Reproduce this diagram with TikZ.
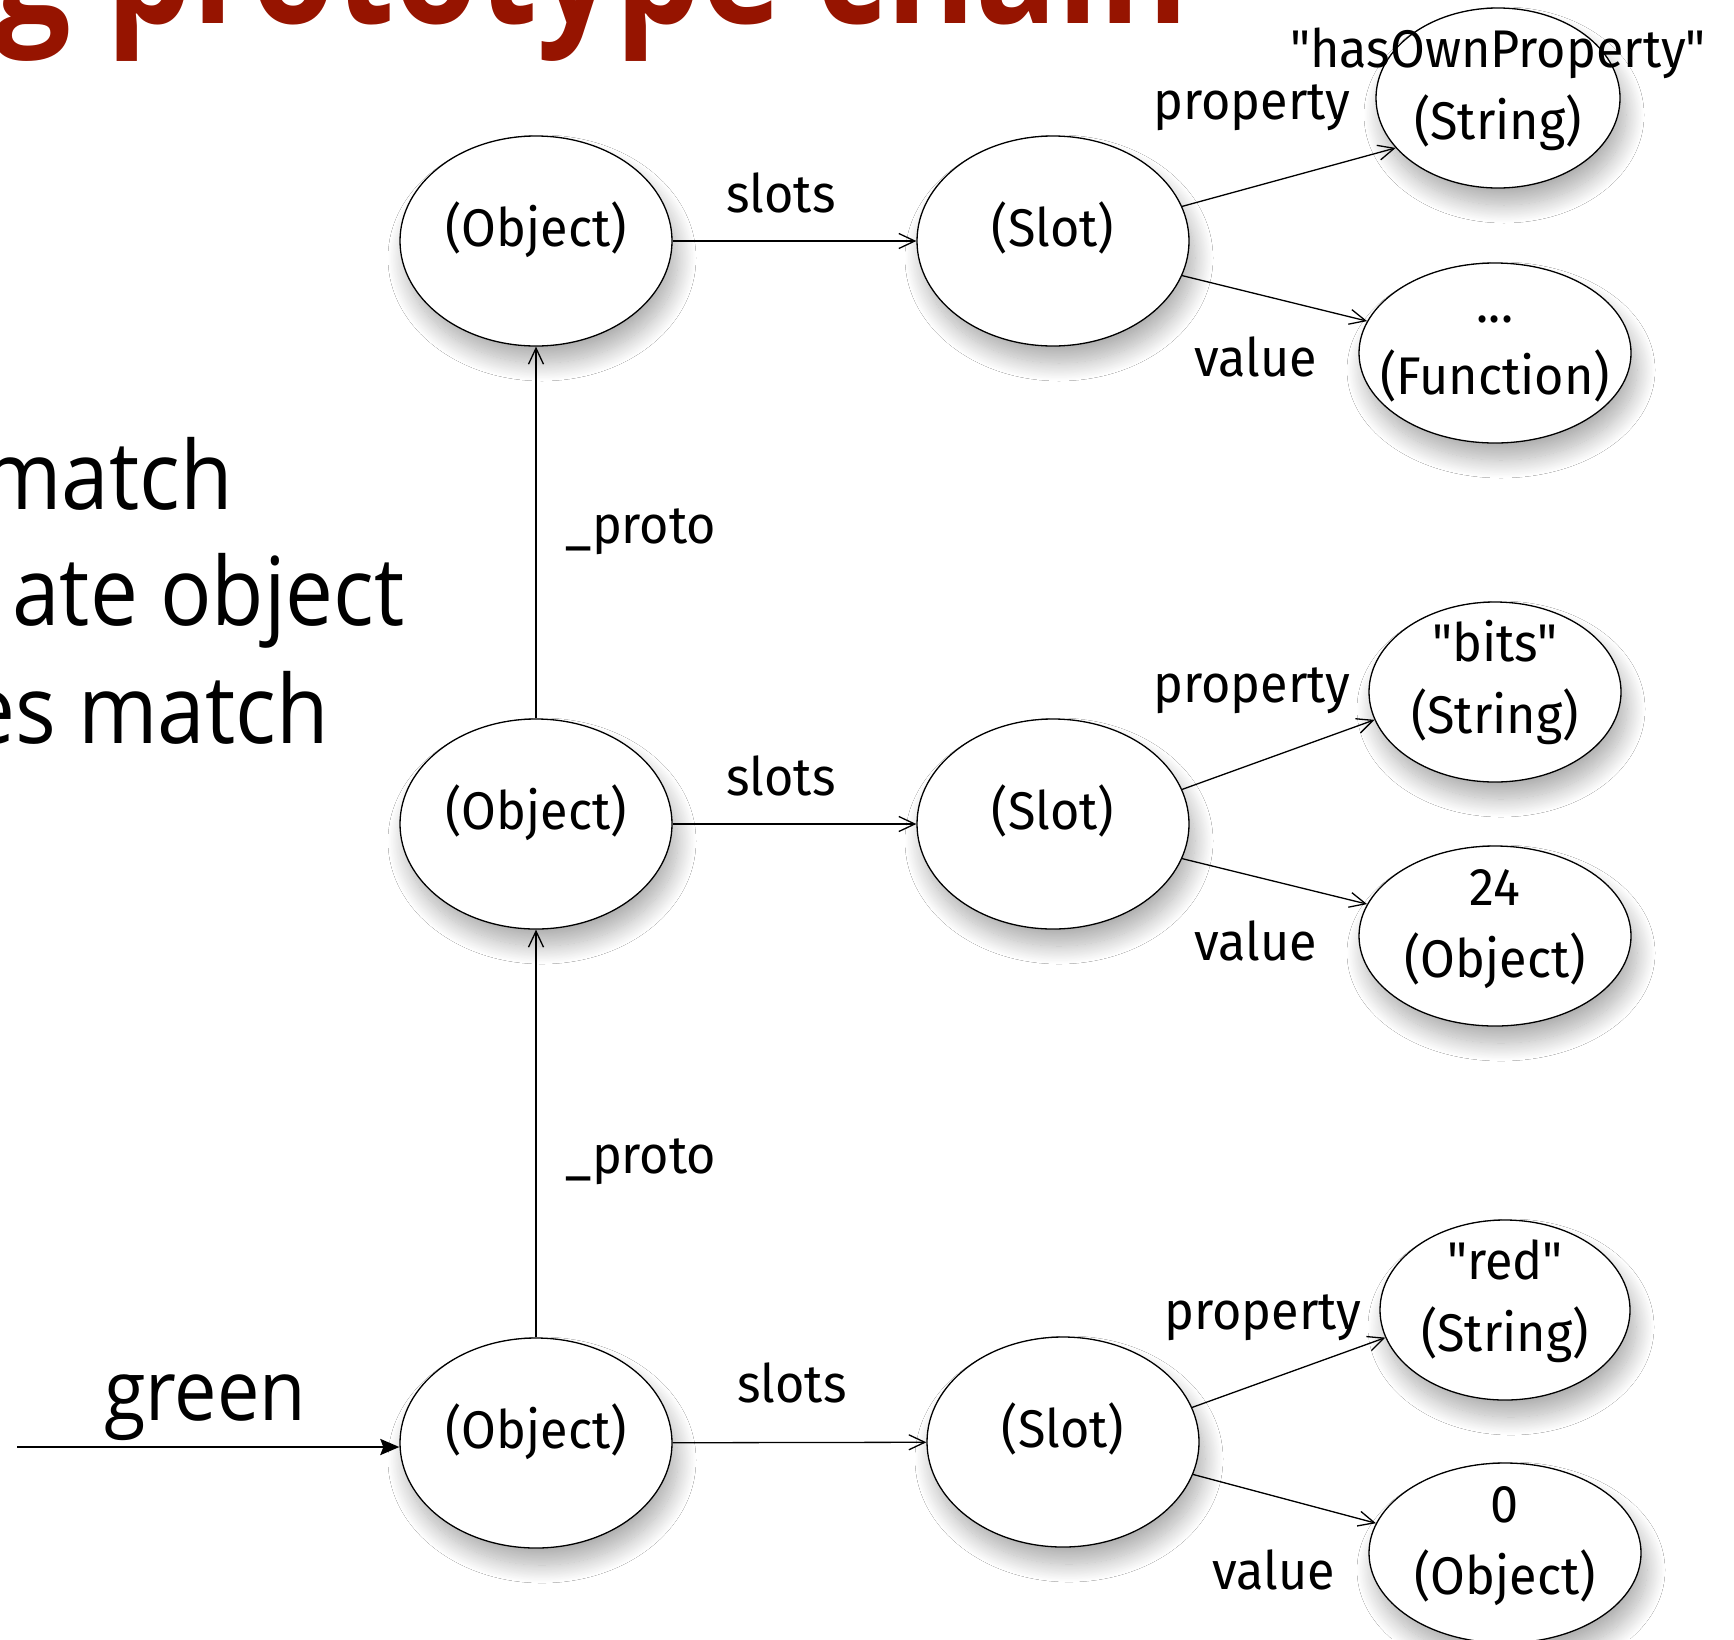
\documentclass[tikz,border=0pt]{standalone}
\usepackage{fontspec}
\usetikzlibrary{arrows.meta,shapes.geometric,shadows.blur}
\newfontfamily\nodefont[FakeStretch=0.95]{Fira Sans}
\newfontfamily\leftfont[FakeStretch=0.9]{Open Sans}
\newfontfamily\titlefont[FakeStretch=0.86]{Open Sans}
\definecolor{titlered}{HTML}{961400}
\newcommand\tA{\rule{0pt}{50.4pt}}
\newcommand\tB{\rule[-39.6pt]{0pt}{39.6pt}}
\newcommand\tS{\rule[-39.6pt]{0pt}{90pt}}
\tikzset{
  obj/.style={draw, ellipse, fill=white, line width=1.3pt, inner sep=0pt,
    minimum width=272pt, minimum height=210pt,
    blur shadow={shadow xshift=6pt, shadow yshift=-17pt, shadow blur radius=18pt,
      shadow blur steps=24, shadow opacity=32}},
  val/.style={obj, minimum height=180pt},
  nt/.style={font=\nodefont\fontsize{53}{72}\selectfont, inner sep=0pt, align=center},
  el/.style={font=\nodefont\fontsize{53}{72}\selectfont, inner sep=0pt, anchor=base},
  arr/.style={line width=1.3pt, -{Straight Barb[length=16pt,width=15pt]}},
  garr/.style={line width=2.7pt, -{Stealth[length=19pt,width=16pt,inset=3pt]}},
  lt/.style={inner sep=0pt, anchor=base east, font=\leftfont\fontsize{95}{100}\selectfont}
}
\begin{document}
\begin{tikzpicture}[x=1pt,y=-1pt]
\useasboundingbox (0,0) rectangle (1734,1639);
\fill[white] (0,0) rectangle (1734,1639);
\clip (0,0) rectangle (1734,1639);

% title and left text
\node[inner sep=0pt, anchor=base east, text=titlered,
  font=\titlefont\bfseries\fontsize{158}{160}\selectfont] (title) at (1189,23) {g prototype chain};
\node[lt] (l1) at (233,509) {match};
\node[lt] (l2) at (405,625) {ate object};
\node[lt] (l3) at (329,743) {es match};
\node[inner sep=0pt, anchor=base, font=\leftfont\fontsize{84}{84}\selectfont] (green) at (205,1420) {green};

% ellipses
\node[obj] (o1) at (536,241) {};
\node[obj] (s1) at (1053,241) {};
\node[val, minimum width=244pt] (v1) at (1498,98) {};
\node[val] (v2) at (1495,353) {};

\node[obj] (o2) at (536,824) {};
\node[obj] (s2) at (1053,824) {};
\node[val, minimum width=252pt] (v3) at (1495,692) {};
\node[val] (v4) at (1495,936) {};

\node[obj] (o3) at (536,1443) {};
\node[obj] (s3) at (1063,1442) {};
\node[val, minimum width=250pt] (v5) at (1505,1310) {};
\node[val] (v6) at (1505,1553) {};

% node texts
\node[nt] (to1) at (o1) {\tS(Object)};
\node[nt] (ts1) at (s1) {\tS(Slot)};
\node[nt] (tv1) at (v1) {\tA"hasOwnProperty"\\(String)\tB};
\node[nt] (tv2) at (v2) {\tA...\\(Function)\tB};
\node[nt] (to2) at (o2) {\tS(Object)};
\node[nt] (ts2) at (s2) {\tS(Slot)};
\node[nt] (tv3) at (v3) {\tA"bits"\\(String)\tB};
\node[nt] (tv4) at (v4) {\tA24\\(Object)\tB};
\node[nt] (to3) at (o3) {\tS(Object)};
\node[nt] (ts3) at (s3) {\tS(Slot)};
\node[nt] (tv5) at (v5) {\tA"red"\\(String)\tB};
\node[nt] (tv6) at (v6) {\tA0\\(Object)\tB};

% connectors
\draw[arr] (o1) -- (s1);
\draw[arr] (s1.15) -- (v1.206);
\draw[arr] (s1.-15) -- (v2.166.5);
\draw[arr] (o2) -- (o1);
\draw[arr] (o2) -- (s2);
\draw[arr] (s2.15) -- (v3.193);
\draw[arr] (s2.-15) -- (v4.166.5);
\draw[arr] (o3) -- (o2);
\draw[arr] (o3) -- (s3);
\draw[arr] (s3.15) -- (v5.193);
\draw[arr] (s3.-14) -- (v6.167.5);
\coordinate (gs) at (17,1447);
\draw[garr] (gs) -- (gs -| o3.west);

% edge labels
\node[el] (lb1) at (781,212) {slots};
\node[el] (lb2) at (1252,119) {property};
\node[el] (lb3) at (1256,376) {value};
\node[el] (lb4) at (641,543) {\_proto};
\node[el] (lb5) at (781,795) {slots};
\node[el] (lb6) at (1252,702) {property};
\node[el] (lb7) at (1256,960) {value};
\node[el] (lb8) at (641,1173) {\_proto};
\node[el] (lb9) at (792,1402) {slots};
\node[el] (lb10) at (1263,1329) {property};
\node[el] (lb11) at (1274,1589) {value};
\end{tikzpicture}
\end{document}
